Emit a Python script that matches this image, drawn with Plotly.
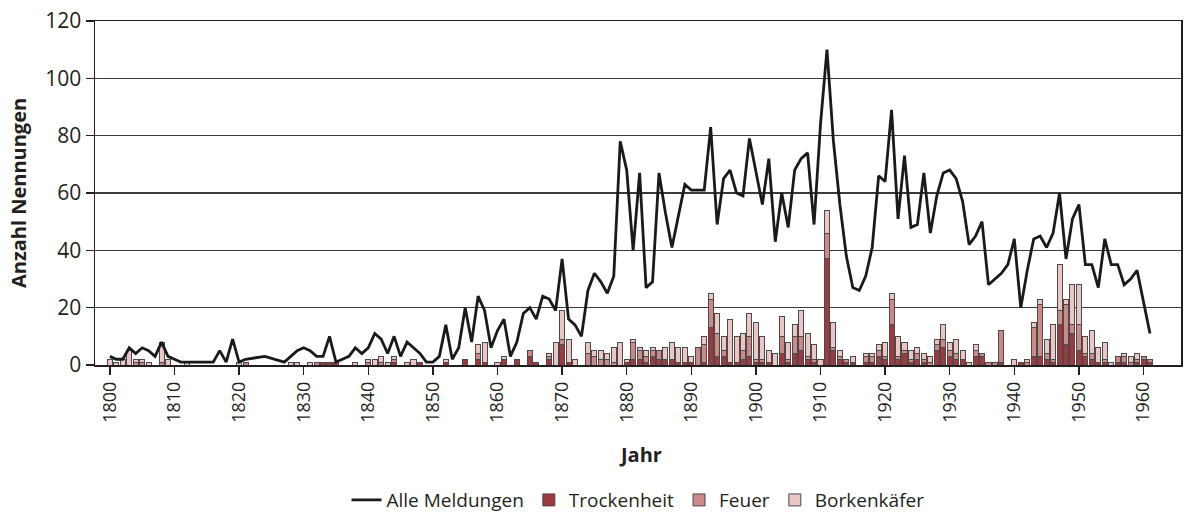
import plotly.graph_objects as go

years = list(range(1800, 1962))

# Alle Meldungen (None = no value that year, line connects across)
alle_meldungen = [
    3, 2, 2, 6, 4, 6, 5, 3, 8, 3,            # 1800-1809
    2, 1, 1, 1, 1, 1, 1, 5, 1, 9,            # 1810-1819
    1, 2, None, None, 3, None, None, 1, 3, 5,  # 1820-1829
    6, 5, 3, 3, 10, 1, 2, 3, 6, 4,           # 1830-1839
    6, 11, 9, 4, 10, 3, 8, 6, 4, 1,          # 1840-1849
    1, 3, 14, 2, 6, 20, 8, 24, 19, 6,        # 1850-1859
    12, 16, 3, 8, 18, 20, 16, 24, 23, 19,    # 1860-1869
    37, 16, 14, 10, 26, 32, 29, 25, 31, 78,  # 1870-1879
    68, 40, 67, 27, 29, 67, 53, 41, 52, 63,  # 1880-1889
    61, 61, 61, 83, 49, 65, 68, 60, 59, 79,  # 1890-1899
    67, 56, 72, 43, 60, 48, 68, 72, 74, 49,  # 1900-1909
    84, 110, 78, 56, 38, 27, 26, 31, 41, 66, # 1910-1919
    64, 89, 51, 73, 48, 49, 67, 46, 59, 67,  # 1920-1929
    68, 65, 57, 42, 45, 50, 28, 30, 32, 35,  # 1930-1939
    44, 20, 33, 44, 45, 41, 46, 60, 37, 51,  # 1940-1949
    56, 35, 35, 27, 44, 35, 35, 28, 30, 33,  # 1950-1959
    22, 11,                                  # 1960-1961
]

trockenheit = [
    0, 0, 0, 0, 0, 0, 0, 0, 0, 0,
    0, 0, 0, 0, 0, 0, 0, 0, 0, 0,
    0, 0, 0, 0, 0, 0, 0, 0, 0, 0,
    0, 0, 0, 1, 1, 1, 0, 0, 0, 0,
    0, 0, 0, 0, 1, 0, 0, 0, 1, 0,
    0, 0, 1, 0, 0, 2, 0, 2, 1, 0,
    0, 2, 0, 2, 0, 3, 1, 0, 2, 0,
    7, 1, 0, 0, 0, 0, 0, 0, 0, 0,
    1, 2, 2, 1, 3, 2, 2, 2, 1, 1,
    1, 0, 1, 13, 3, 3, 1, 1, 2, 3,
    1, 1, 1, 0, 4, 1, 4, 5, 2, 1,
    0, 37, 5, 2, 1, 1, 0, 1, 1, 3,
    2, 14, 2, 4, 1, 2, 1, 0, 5, 6,
    3, 2, 2, 0, 3, 3, 0, 0, 1, 0,
    0, 1, 0, 3, 3, 2, 1, 14, 7, 11,
    5, 3, 2, 1, 1, 0, 1, 1, 0, 1,
    2, 1,
]

feuer = [
    0, 0, 0, 0, 1, 1, 0, 0, 1, 0,
    0, 0, 0, 0, 0, 0, 0, 0, 0, 0,
    0, 1, 0, 0, 0, 0, 0, 0, 0, 0,
    0, 0, 1, 0, 0, 0, 0, 0, 0, 0,
    1, 0, 1, 0, 1, 0, 0, 0, 0, 0,
    0, 0, 0, 0, 0, 0, 0, 2, 0, 0,
    0, 0, 0, 0, 0, 2, 0, 0, 1, 0,
    2, 0, 0, 0, 4, 3, 2, 2, 1, 0,
    0, 6, 3, 2, 2, 3, 0, 0, 0, 0,
    0, 6, 6, 10, 8, 2, 0, 0, 3, 7,
    1, 1, 0, 0, 6, 1, 6, 5, 1, 1,
    0, 9, 1, 1, 1, 0, 0, 2, 2, 2,
    1, 9, 1, 1, 1, 2, 1, 1, 2, 3,
    2, 2, 0, 0, 2, 1, 1, 1, 11, 0,
    0, 0, 1, 10, 18, 2, 1, 5, 14, 3,
    9, 1, 2, 0, 1, 0, 2, 2, 1, 1,
    1, 1,
]

borkenkaefer = [
    2, 1, 2, 5, 1, 1, 1, 0, 7, 2,
    0, 0, 1, 0, 0, 0, 0, 0, 0, 0,
    1, 0, 0, 0, 0, 0, 0, 0, 1, 1,
    0, 1, 0, 0, 0, 0, 0, 0, 1, 0,
    1, 2, 2, 1, 1, 0, 1, 2, 0, 0,
    0, 0, 1, 0, 0, 0, 0, 3, 7, 0,
    1, 1, 0, 0, 0, 0, 0, 0, 1, 8,
    10, 8, 2, 0, 4, 2, 3, 2, 5, 8,
    1, 1, 1, 2, 1, 0, 4, 6, 5, 5,
    2, 0, 3, 2, 7, 5, 15, 9, 6, 8,
    13, 8, 4, 4, 7, 6, 4, 9, 8, 5,
    2, 8, 9, 2, 0, 2, 0, 1, 1, 2,
    5, 2, 7, 3, 3, 2, 2, 2, 2, 5,
    3, 5, 3, 1, 2, 0, 0, 0, 0, 0,
    2, 0, 1, 2, 2, 5, 12, 16, 2, 14,
    14, 6, 8, 5, 6, 1, 0, 1, 2, 2,
    0, 0,
]

tick_years = list(range(1800, 1961, 10))
y_ticks = [0, 20, 40, 60, 80, 100, 120]

FONT = "Open Sans"
DARK = "#231f20"


def nz(vals):
    return [v if v else None for v in vals]


fig = go.Figure()

fig.add_trace(go.Scatter(
    x=years, y=alle_meldungen, name="Alle Meldungen", mode="lines",
    line=dict(color="#1a1a1a", width=2.8), connectgaps=True,
))

bar_specs = [
    ("Trockenheit", trockenheit, "#9e3a3f"),
    ("Feuer", feuer, "#cc8987"),
    ("Borkenkäfer", borkenkaefer, "#ebc6c4"),
]
for name, vals, color in bar_specs:
    fig.add_trace(go.Bar(
        x=years, y=nz(vals), name=name,
        marker=dict(color=color, line=dict(color="#4a4a4a", width=1)),
        width=0.78,
    ))

fig.update_layout(
    width=1187, height=515,
    barmode="stack",
    plot_bgcolor="white", paper_bgcolor="white",
    margin=dict(l=95, r=6, t=21, b=150, autoexpand=False),
    font=dict(family=FONT, color=DARK, size=19),
    showlegend=True,
    legend=dict(
        orientation="h", x=0.5, xanchor="center",
        yref="container", y=0.029, yanchor="middle",
        traceorder="normal", font=dict(size=19, family=FONT, color=DARK),
        itemwidth=30,
    ),
    xaxis=dict(
        range=[1797.7, 1965.8], automargin=False,
        tickmode="array", tickvals=tick_years, ticktext=[str(t) for t in tick_years],
        tickangle=-90, ticks="outside", ticklen=8, tickwidth=1.5, tickcolor=DARK,
        tickfont=dict(size=18, family=FONT, color=DARK),
        showline=True, linecolor=DARK, linewidth=1.5, mirror=True,
        showgrid=False, zeroline=False,
    ),
    yaxis=dict(
        range=[0, 120], automargin=False,
        tickmode="array", tickvals=y_ticks,
        ticks="outside", ticklen=8, tickwidth=1.5, tickcolor=DARK,
        tickfont=dict(size=21, family=FONT, color=DARK),
        showline=True, linecolor=DARK, linewidth=1.5, mirror=True,
        showgrid=True, gridcolor="#3a3a3a", gridwidth=1.2,
        zeroline=False,
    ),
    annotations=[
        dict(text="<b>Anzahl Nennungen</b>", xref="paper", yref="paper",
             x=-0.0709, y=0.5, showarrow=False, textangle=-90,
             font=dict(size=20, family=FONT, color=DARK),
             xanchor="center", yanchor="middle"),
        dict(text="<b>Jahr</b>", xref="paper", yref="paper",
             x=0.502, y=-0.2616, showarrow=False,
             font=dict(size=20, family=FONT, color=DARK),
             xanchor="center", yanchor="middle"),
    ],
)

fig.write_html("out.html", config={"displayModeBar": False, "staticPlot": True})

# remove the browser's default 8px body margin so the figure fills the window
with open("out.html", "r", encoding="utf-8") as fh:
    html = fh.read()
html = html.replace("<head>", "<head><style>html,body{margin:0;padding:0;overflow:hidden;}</style>", 1)
with open("out.html", "w", encoding="utf-8") as fh:
    fh.write(html)
